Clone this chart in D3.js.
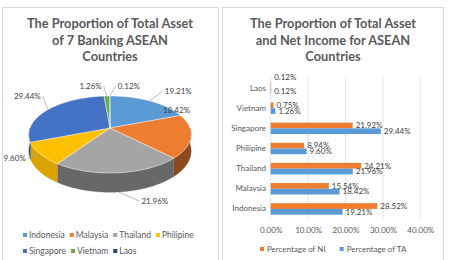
<!DOCTYPE html>
<html>
<head>
<meta charset="utf-8">
<script src="https://cdn.jsdelivr.net/npm/d3@7"></script>
<style>
  body { margin: 0; background: #fff; }
  text { font-family: Lato, "Liberation Sans", sans-serif; }
</style>
</head>
<body>
<div id="chart"></div>
<script>
// data
const countries = ["Indonesia", "Malaysia", "Thailand", "Philipine", "Singapore", "Vietnam", "Laos"];
const taShare = [19.21, 18.42, 21.96, 9.60, 29.44, 1.26, 0.12];
const niShare = [28.52, 15.54, 24.21, 8.94, 21.92, 0.75, 0.12];
const barOrder = ["Laos", "Vietnam", "Singapore", "Philipine", "Thailand", "Malaysia", "Indonesia"];
const seriesNames = ["Percentage of NI", "Percentage of TA"];
const xTicks = [0, 0.1, 0.2, 0.3, 0.4];

// colors
const pieColors = ["#5B9BD5", "#ED7D31", "#A5A5A5", "#FFC000", "#4472C4", "#70AD47", "#264478"];
const sideShade = [1.0, 1.5, 1.3, 0.45, 0.8, 1, 1];
const barColors = ["#ED7D31", "#5B9BD5"];

const W = 450, H = 260;
const svg = d3.select("#chart").append("svg").attr("width", W).attr("height", H);

// panel borders
svg.append("rect").attr("x", 2.5).attr("y", 7.5).attr("width", 216).attr("height", 260)
  .attr("fill", "none").attr("stroke", "#d9d9d9");
svg.append("rect").attr("x", 222.5).attr("y", 7.5).attr("width", 221).attr("height", 260)
  .attr("fill", "none").attr("stroke", "#d9d9d9");

function title(cx, lines) {
  svg.append("g").selectAll("text").data(lines).join("text")
    .attr("x", cx).attr("y", (d, i) => 28 + i * 16.5)
    .attr("text-anchor", "middle")
    .attr("fill", "#595959").style("font-size", "12.8px").style("font-weight", "bold")
    .text(d => d);
}
title(110, ["The Proportion of Total Asset", "of 7 Banking ASEAN", "Countries"]);
title(333, ["The Proportion of Total Asset", "and Net Income for ASEAN", "Countries"]);

const fmt = v => v.toFixed(2) + "%";

// ---------- 3D pie ----------
const cx = 110, cy = 128, rx = 80, ry = 37.4, D = 5.93, depth = 16;
function proj(a, r, off) {
  const X = r * Math.sin(a), Z = -r * Math.cos(a);
  const s = D / (D - Z);
  return [cx + rx * X * s, cy + (ry * Z + off) * s];
}
function arcPts(a0, a1, off) {
  const n = Math.max(2, Math.ceil((a1 - a0) / 0.01));
  return d3.range(n + 1).map(i => proj(a0 + (a1 - a0) * i / n, 1, off));
}

const arcs = d3.pie().sort(null).value(d => d)(taShare);
const pieG = svg.append("g");

// side walls (front half only)
arcs.forEach((d, i) => {
  const lo = Math.max(d.startAngle, Math.PI / 2), hi = Math.min(d.endAngle, 3 * Math.PI / 2);
  if (lo >= hi) return;
  const pts = arcPts(lo, hi, 0).concat(arcPts(lo, hi, depth).reverse());
  pieG.append("path")
    .attr("d", "M" + pts.map(p => p.join(",")).join("L") + "Z")
    .attr("fill", d3.color(pieColors[i]).darker(sideShade[i]))
    .attr("stroke", d3.color(pieColors[i]).darker(sideShade[i])).attr("stroke-width", 0.3);
});

// top faces
arcs.forEach((d, i) => {
  const pts = [[cx, cy]].concat(arcPts(d.startAngle, d.endAngle, 0));
  pieG.append("path")
    .attr("d", "M" + pts.map(p => p.join(",")).join("L") + "Z")
    .attr("fill", pieColors[i])
    .attr("stroke", "#ffffff").attr("stroke-opacity", 0.7).attr("stroke-width", 0.6);
});

// pie labels
const labelNudge = [[15, -10], [-1, -26], [23, 9], [-14, 4], [-7, -14], [-5, -10], [8, -10]];
const labelOnSide = [0, 0, 1, 0, 0, 0, 0];
const hasLeader = [1, 0, 1, 1, 1, 1, 1];
arcs.forEach((d, i) => {
  const mid = (d.startAngle + d.endAngle) / 2;
  const a = proj(mid, 1, labelOnSide[i] ? depth : 0);
  const lx = a[0] + labelNudge[i][0], ly = a[1] + labelNudge[i][1];
  const dir = labelNudge[i][0] >= 0 ? 1 : -1;
  if (hasLeader[i]) {
    pieG.append("path")
      .attr("d", `M${a[0]},${a[1]}L${lx - 2 * dir},${ly}`)
      .attr("fill", "none").attr("stroke", "#a6a6a6").attr("stroke-width", 0.75);
  }
  pieG.append("text")
    .attr("x", lx).attr("y", ly).attr("dy", "0.35em")
    .attr("text-anchor", dir > 0 ? "start" : "end")
    .attr("fill", "#404040").style("font-size", "8px")
    .text(fmt(d.data));
});

// pie legend
const legL = svg.append("g");
let lxCur = 23, lyCur = 235;
countries.forEach((c, i) => {
  if (i === 4) { lxCur = 23; lyCur = 251; }
  legL.append("rect").attr("x", lxCur).attr("y", lyCur - 2).attr("width", 4).attr("height", 4)
    .attr("fill", pieColors[i]);
  const t = legL.append("text").attr("x", lxCur + 6).attr("y", lyCur).attr("dy", "0.35em")
    .attr("fill", "#595959").style("font-size", "8.5px").text(c);
  lxCur += 6 + t.node().getComputedTextLength() + 5;
});

// ---------- bar chart ----------
const x = d3.scaleLinear().domain([0, 0.4]).range([270.7, 420.3]);
const y = d3.scaleBand().domain(barOrder).range([78, 219]).paddingInner(0.43).paddingOuter(0.215);
const ySub = d3.scaleBand().domain(seriesNames).range([0, y.bandwidth()]);

const barG = svg.append("g");
barG.selectAll("line.grid").data(xTicks).join("line")
  .attr("x1", d => x(d)).attr("x2", d => x(d))
  .attr("y1", 77).attr("y2", 219)
  .attr("stroke", "#d9d9d9").attr("stroke-width", 0.75);

const xAxis = barG.append("g").attr("transform", "translate(0,224)")
  .call(d3.axisBottom(x).tickValues(xTicks).tickFormat(d3.format(".2%")).tickSize(0));
xAxis.select(".domain").remove();
xAxis.selectAll("text").attr("fill", "#595959").style("font-size", "8px")
  .style("font-family", "Lato, 'Liberation Sans', sans-serif");

const yAxis = barG.append("g").attr("transform", "translate(266,0)")
  .call(d3.axisLeft(y).tickSize(0).tickPadding(0));
yAxis.select(".domain").remove();
yAxis.selectAll("text").attr("fill", "#595959").style("font-size", "8px")
  .style("font-family", "Lato, 'Liberation Sans', sans-serif");

const rows = countries.map((c, i) => ({ c, vals: [niShare[i], taShare[i]] }));
rows.forEach(r => {
  // equal values would stack their labels: lift the upper one clear
  const same = r.vals[0] === r.vals[1];
  r.vals.forEach((v, k) => {
    const yy = y(r.c) + ySub(seriesNames[k]);
    barG.append("rect")
      .attr("x", x(0)).attr("y", yy)
      .attr("width", x(v / 100) - x(0)).attr("height", ySub.bandwidth())
      .attr("fill", barColors[k]);
    barG.append("text")
      .attr("x", x(v / 100) + 3)
      .attr("y", yy + ySub.bandwidth() / 2 + (same ? (k === 0 ? -8 : 0) : 0))
      .attr("dy", "0.35em")
      .attr("fill", "#404040").style("font-size", "8px")
      .text(fmt(v));
  });
});

// bar legend
const legR = svg.append("g");
let rxCur = 260;
seriesNames.forEach((s, k) => {
  legR.append("rect").attr("x", rxCur).attr("y", 247).attr("width", 4).attr("height", 4)
    .attr("fill", barColors[k]);
  const t = legR.append("text").attr("x", rxCur + 7).attr("y", 249).attr("dy", "0.35em")
    .attr("fill", "#595959").style("font-size", "8px").text(s);
  rxCur += 7 + t.node().getComputedTextLength() + 14;
});
</script>
</body>
</html>
